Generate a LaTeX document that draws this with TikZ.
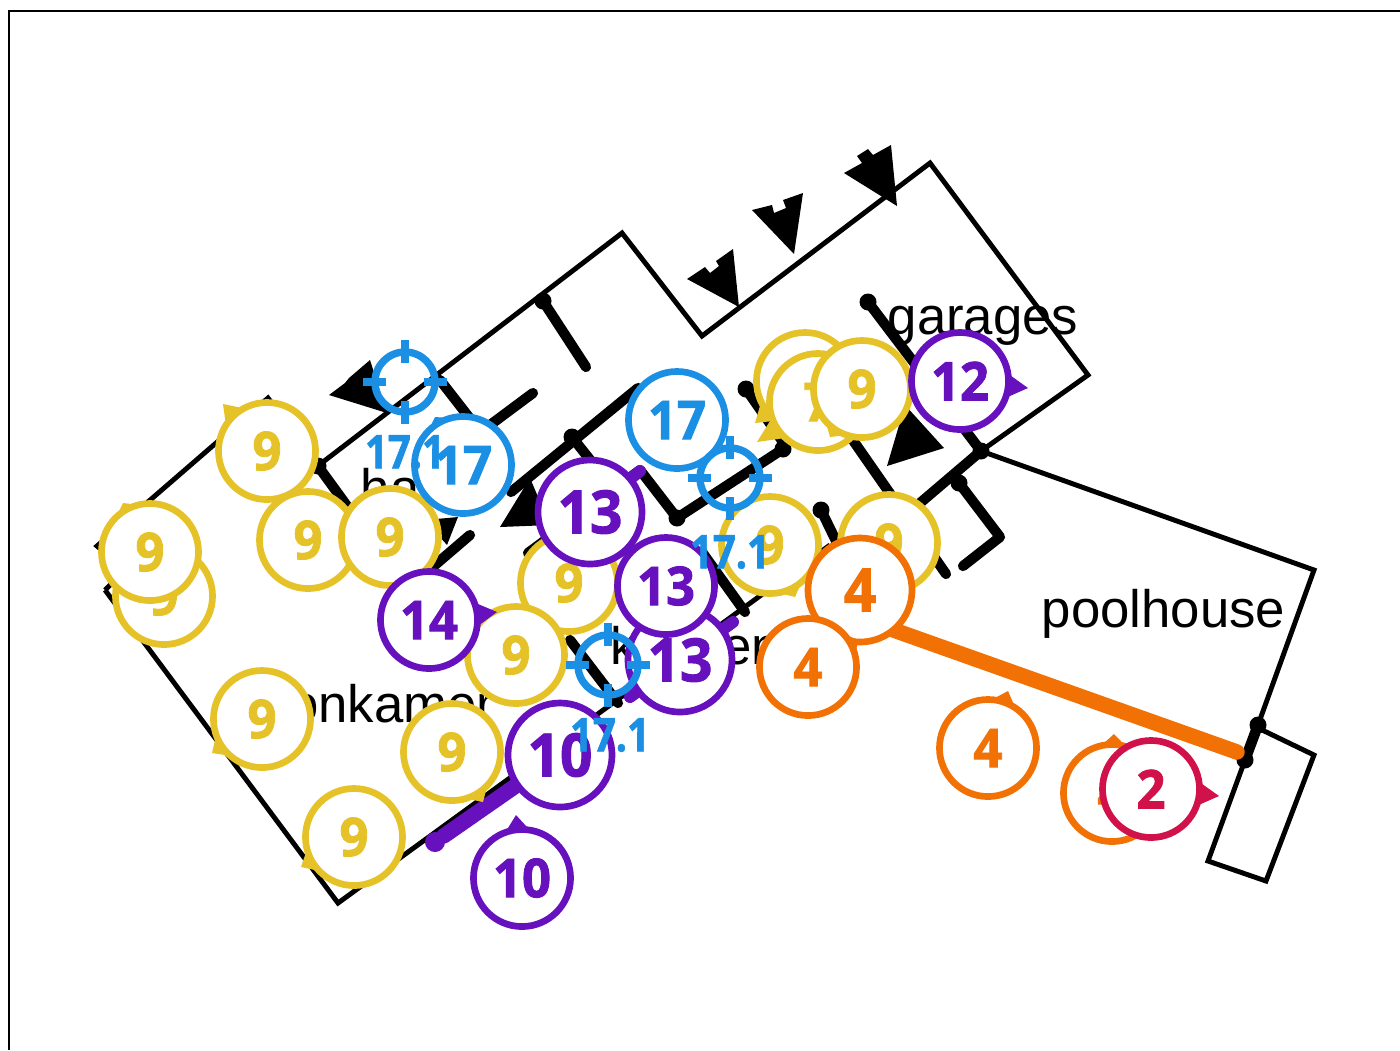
\documentclass[tikz,border=0pt]{standalone}
\usepackage{xcolor}
\usepackage{fontspec}
\setmainfont{Liberation Sans}
\newfontfamily\badgefont[FakeStretch=0.95,FakeBold=1.6]{Open Sans Bold}
\newfontfamily\aimfont[FakeStretch=0.86,FakeBold=1.4]{Open Sans Bold}
\usetikzlibrary{calc}

\definecolor{nineyellow}{HTML}{E6C229}
\definecolor{fourorange}{HTML}{F17105}
\definecolor{twored}{HTML}{D11149}
\definecolor{tenpurple}{HTML}{6610BE}
\definecolor{aimblue}{HTML}{1A8FE3}

\tikzset{
    wall/.style={line width=1.4pt, line join=miter},
    innerwall/.style={line width=2.9pt, line cap=round, line join=round},
    walldot/.style={circle, fill=black, inner sep=0pt, minimum size=0.17cm},
    roomlabel/.style={anchor=base west, inner sep=0pt, font=\fontsize{15}{18}\selectfont},
    badge/.style={circle, draw=#1, text=#1, fill=white, line width=1.9pt, inner sep=0pt,
        minimum size=0.97cm, font=\badgefont\fontsize{15.2}{18}\selectfont},
    bigbadge/.style={badge=#1, minimum size=1.04cm, font=\badgefont\fontsize{17}{20}\selectfont},
    aim/.style={circle, draw=aimblue, line width=2.1pt, inner sep=0pt, minimum size=0.6cm},
    aimtick/.style={aimblue, line width=2.4pt},
    aimlabel/.style={text=aimblue, inner sep=0pt, font=\aimfont\fontsize{13.2}{16}\selectfont},
    fatline/.style={line width=4.4pt, line cap=round},
    fatdot/.style={circle, fill=#1, inner sep=0pt, minimum size=0.2cm},
}

\newcommand{\pointer}[3]{\fill[#2] (#3) -- ($(#1)!.49cm!14:(#3)$) -- ($(#1)!.49cm!-14:(#3)$) -- cycle;}
\newcommand{\aimticks}[1]{\foreach \a in {0,90,180,270} \draw[aimtick] ($(#1)+(\a:19)$) -- ($(#1)+(\a:42)$);}

\begin{document}
\begin{tikzpicture}[x=0.01cm,y=-0.01cm]
    \useasboundingbox (0,0) rectangle (1400,1050);

    % Frame
    \draw[line width=0.57pt] (9,1050) -- (9,11) -- (1400,11);

    % Outer walls
    \draw[wall] (105,590) -- (125,570) -- (97,546) -- (268,398) -- (319,465) -- (622,233) -- (702,336)
        -- (930,163) -- (1088,375) -- (981,451) -- (1314,570) -- (1258,725);
    \draw[wall] (105,590) -- (338,903) -- (830,545);
    \draw[wall] (888,628) -- (1245,760);
    \draw[wall] (1258,728) -- (1314,755) -- (1266,881) -- (1208,861) -- (1245,760);

    % Inner walls
    \draw[innerwall] (318,466) -- (350,510);
    \draw[innerwall] (543,301) -- (586,367);
    \draw[innerwall] (440,380) -- (475,425);
    \draw[innerwall] (533,393) -- (490,425);
    \draw[innerwall] (470,535) -- (435,565);
    \draw[innerwall] (511,492) -- (638,388);
    \draw[innerwall] (572,437) -- (610,485);
    \draw[innerwall] (528,553) -- (640,470) -- (677,518) -- (783,449);
    \draw[innerwall] (746,389) -- (785,445);
    \draw[innerwall] (868,302) -- (981,451) -- (920,503);
    \draw[innerwall] (818,390) -- (946,574);
    \draw[innerwall] (821,510) -- (838,545);
    \draw[innerwall] (959,483) -- (1000,537) -- (963,566);
    \draw[innerwall] (702,552) -- (745,612);
    \draw[innerwall] (570,640) -- (618,703);
    \draw[innerwall, line width=3pt] (1258,725) -- (1245,760);

    % Wall ends
    \node[walldot] (dot1) at (543,301) {};
    \node[walldot] (dot2) at (572,437) {};
    \node[walldot] (dot3) at (677,518) {};
    \node[walldot] (dot4) at (783,449) {};
    \node[walldot] (dot5) at (746,389) {};
    \node[walldot] (dot6) at (868,302) {};
    \node[walldot] (dot7) at (981,451) {};
    \node[walldot] (dot8) at (959,483) {};
    \node[walldot] (dot9) at (821,510) {};
    \node[walldot] (dot10) at (1258,725) {};
    \node[walldot] (dot11) at (1245,760) {};
    \node[walldot] (dot12) at (318,466) {};

    % Openings
    \fill (687,279) -- (705,267) -- (710,273) -- (719,266) -- (716,261) -- (733,249) -- (739,307) -- cycle;
    \fill (752,210) -- (772,205) -- (774,213) -- (786,208) -- (783,200) -- (803,193) -- (794,254) -- cycle;
    \fill (844,173) -- (862,163) -- (857,156) -- (868,149) -- (873,155) -- (891,145) -- (897,206) -- cycle;
    \fill (329,395) -- (345,383) -- (349,378) -- (370,360) -- (387,413) -- cycle;
    \fill (500,527) -- (530,478) -- (550,525) -- cycle;
    \fill (887,466) -- (944,448) -- (905,405) -- cycle;
    \fill (458,517) -- (447,545) -- (425,520) -- cycle;

    % Room names
    \node[roomlabel] (garages) at (887,334) {garages};
    \node[roomlabel] (poolhouse) at (1041,627) {poolhouse};
    \node[roomlabel] (woonkamer) at (221,722) {woonkamer};
    \node[roomlabel] (keuken) at (610,664) {keuken};
    \node[roomlabel] (hal) at (360,506) {hal};

    % Fat lines
    \node[fatdot=tenpurple] (tenstart) at (435,842) {};
    \node[fatdot=tenpurple, minimum size=0.16cm] (thirteenstart) at (543,548) {};
    \coordinate (thirteenend) at (640,471);
    \coordinate (otherstart) at (630,697);
    \coordinate (otherend) at (733,622);
    \coordinate (orangestart) at (888,628);
    \coordinate (orangeend) at (1237,752);
    \coordinate (tenend) at (560,755);
    \draw[fatline, fourorange] (orangestart) -- (orangeend);
    \draw[fatline, tenpurple] (tenstart) -- (tenend);
    \draw[fatline, tenpurple, line width=3.4pt] (thirteenstart) -- (thirteenend);
    \draw[fatline, tenpurple, line width=3.4pt] (otherstart) -- (otherend);

    % Yellow badges
    \node[badge=nineyellow] (nine1) at (164,596) {9};
    \pointer{nine1}{nineyellow}{138,640}
    \node[badge=nineyellow] (nine2) at (150,552) {9};
    \pointer{nine2}{nineyellow}{123,503}
    \node[badge=nineyellow] (nine3) at (308,540) {9};
    \node[badge=nineyellow] (nine4) at (267,451) {9};
    \pointer{nine4}{nineyellow}{223,404}
    \node[badge=nineyellow] (nine5) at (390,537) {9};
    \node[badge=nineyellow] (nine6) at (569,583) {9};
    \node[badge=nineyellow] (nine7) at (516,655) {9};
    \node[badge=nineyellow] (nine8) at (262,719) {9};
    \pointer{nine8}{nineyellow}{212,753}
    \node[badge=nineyellow] (nine9) at (452,752) {9};
    \pointer{nine9}{nineyellow}{483,802}
    \node[badge=nineyellow] (nine10) at (354,837) {9};
    \pointer{nine10}{nineyellow}{301,867}
    \node[badge=nineyellow] (nine11) at (770,545) {9};
    \pointer{nine11}{nineyellow}{795,597}
    \node[badge=nineyellow] (nine12) at (889,543) {9};
    \node[badge=nineyellow] (nine13) at (805,381) {9};
    \pointer{nine13}{nineyellow}{755,423}
    \node[badge=nineyellow] (nine14) at (818,402) {7};
    \pointer{nine14}{nineyellow}{757,442}
    \node[badge=nineyellow] (nine15) at (862,389) {9};
    \pointer{nine15}{nineyellow}{830,437}

    % Purple badges
    \node[bigbadge=tenpurple] (ten1) at (560,755) {10};
    \node[badge=tenpurple] (ten2) at (522,878) {10};
    \pointer{ten2}{tenpurple}{516,815}
    \node[badge=tenpurple] (twelve) at (960,381) {12};
    \pointer{twelve}{tenpurple}{1028,388}
    \node[bigbadge=tenpurple] (thirteen1) at (680,660) {13};
    \node[bigbadge=tenpurple] (thirteen2) at (590,512) {13};
    \node[badge=tenpurple] (thirteen3) at (666,586) {13};
    \node[badge=tenpurple] (fourteen) at (429,620) {14};
    \pointer{fourteen}{tenpurple}{497,612}

    % Orange badges
    \node[bigbadge=fourorange] (four1) at (860,590) {4};
    \node[badge=fourorange] (four2) at (808,667) {4};
    \pointer{four2}{fourorange}{858,640}
    \node[badge=fourorange] (four3) at (988,748) {4};
    \pointer{four3}{fourorange}{1008,691}
    \node[badge=fourorange] (four4) at (1112,793) {4};
    \pointer{four4}{fourorange}{1114,734}
    \node[badge=twored] (two) at (1151,789) {2};
    \pointer{two}{twored}{1219,796}

    % Blue badges
    \node[badge=aimblue] (seventeen1) at (463,465) {17};
    \pointer{seventeen1}{aimblue}{435,417}
    \node[badge=aimblue] (seventeen2) at (677,420) {17};

    % Crosshairs
    \node[aim] (aim1) at (405,382) {};
    \aimticks{aim1}
    \node[aim] (aim2) at (730,478) {};
    \aimticks{aim2}
    \node[aim] (aim3) at (608,665) {};
    \aimticks{aim3}
    \node[aimlabel] (aimtext1) at (405,452) {17.1};
    \node[aimlabel] (aimtext2) at (730,552) {17.1};
    \node[aimlabel] (aimtext3) at (610,735) {17.1};
\end{tikzpicture}
\end{document}
